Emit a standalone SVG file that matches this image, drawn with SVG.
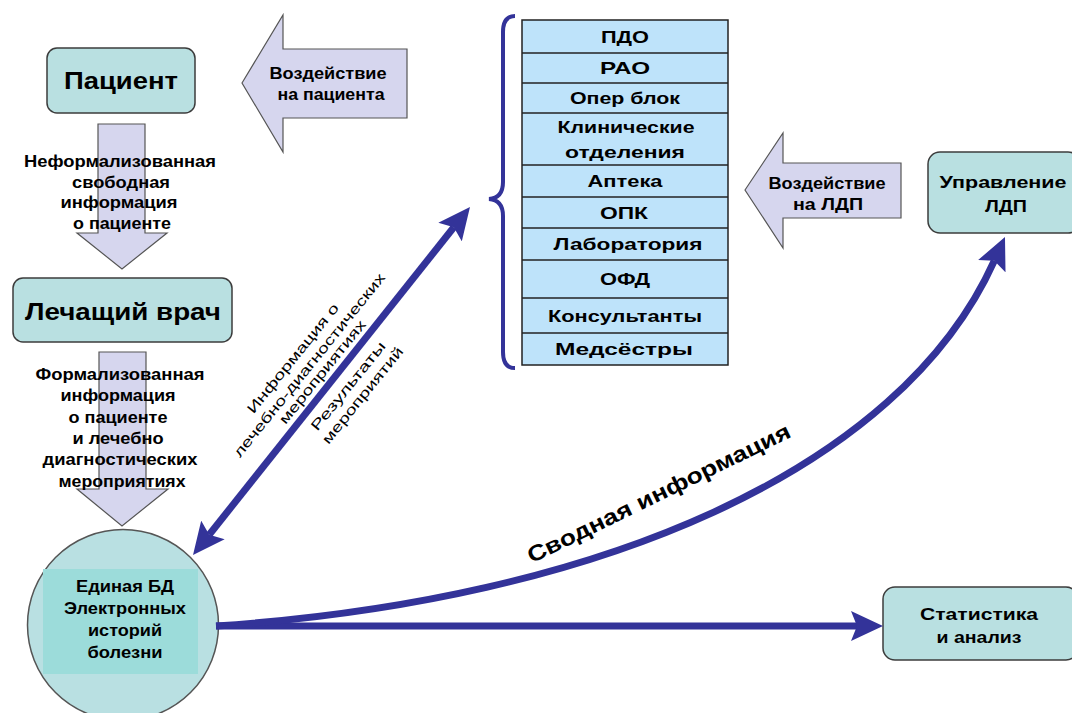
<svg xmlns="http://www.w3.org/2000/svg" width="1072" height="713" viewBox="0 0 1072 713">
<style>
.t{font-family:"Liberation Sans",Arial,sans-serif;font-weight:bold;fill:#000;text-anchor:middle}
.n{font-family:"Liberation Sans",Arial,sans-serif;font-weight:normal;fill:#000;text-anchor:middle}
.box{fill:#b9e0e1;stroke:#3c3c3c;stroke-width:1.5}
.arr{fill:#d6d6ee;stroke:#555;stroke-width:1.2}
.tbl{fill:#bee3fa;stroke:#222;stroke-width:1.5}
.con{fill:none;stroke:#333399;stroke-width:7}
</style>
<defs>
<marker id="ah" viewBox="0 0 32 30" refX="6" refY="15" markerWidth="32" markerHeight="30" markerUnits="userSpaceOnUse" orient="auto-start-reverse">
<path d="M0,0 L32,15 L0,30 L6,15 z" fill="#333399"/>
</marker>
</defs>
<rect width="1072" height="713" fill="#fff"/>

<g id="arrow-patient">
<polygon class="arr" points="242,83 283,15 283,49 407,49 407,118 283,118 283,152"/>
<text class="t" font-size="16" x="328" y="79" textLength="117" lengthAdjust="spacingAndGlyphs">Воздействие</text>
<text class="t" font-size="16" x="331" y="100" textLength="107" lengthAdjust="spacingAndGlyphs">на пациента</text>
</g>

<g id="arrow-ldp">
<polygon class="arr" points="745,190 783,133 783,163 901,163 901,218 783,218 783,248"/>
<text class="t" font-size="16" x="827" y="189" textLength="117" lengthAdjust="spacingAndGlyphs">Воздействие</text>
<text class="t" font-size="16" x="828" y="210" textLength="70" lengthAdjust="spacingAndGlyphs">на ЛДП</text>
</g>

<g id="arrow-down1">
<polygon class="arr" points="98,124 145,124 145,233 167,233 122,269 77,233 98,233"/>
<text class="t" font-size="16" x="120" y="167" textLength="192" lengthAdjust="spacingAndGlyphs">Неформализованная</text>
<text class="t" font-size="16" x="121" y="188" textLength="98" lengthAdjust="spacingAndGlyphs">свободная</text>
<text class="t" font-size="16" x="119" y="208" textLength="117" lengthAdjust="spacingAndGlyphs">информация</text>
<text class="t" font-size="16" x="122" y="229" textLength="98" lengthAdjust="spacingAndGlyphs">о пациенте</text>
</g>

<g id="arrow-down2">
<polygon class="arr" points="99,352 146,352 146,489 168,489 122,526 77,489 99,489"/>
<text class="t" font-size="16" x="120" y="380" textLength="169" lengthAdjust="spacingAndGlyphs">Формализованная</text>
<text class="t" font-size="16" x="118" y="401" textLength="115" lengthAdjust="spacingAndGlyphs">информация</text>
<text class="t" font-size="16" x="118" y="423" textLength="99" lengthAdjust="spacingAndGlyphs">о пациенте</text>
<text class="t" font-size="16" x="118" y="444" textLength="91" lengthAdjust="spacingAndGlyphs">и лечебно</text>
<text class="t" font-size="16" x="120" y="465" textLength="155" lengthAdjust="spacingAndGlyphs">диагностических</text>
<text class="t" font-size="16" x="122" y="487" textLength="127" lengthAdjust="spacingAndGlyphs">мероприятиях</text>
</g>

<g id="patient">
<rect class="box" x="47" y="48" width="148" height="65" rx="10"/>
<text class="t" font-size="23" x="121" y="89" textLength="114" lengthAdjust="spacingAndGlyphs">Пациент</text>
</g>

<g id="doctor">
<rect class="box" x="13" y="278" width="219" height="64" rx="10"/>
<text class="t" font-size="23" x="123" y="320" textLength="196" lengthAdjust="spacingAndGlyphs">Лечащий врач</text>
</g>

<g id="departments">
<rect class="tbl" x="522" y="20" width="206" height="345"/>
<g stroke="#222" stroke-width="1.5">
<line x1="522" y1="53" x2="728" y2="53"/>
<line x1="522" y1="83" x2="728" y2="83"/>
<line x1="522" y1="113" x2="728" y2="113"/>
<line x1="522" y1="165" x2="728" y2="165"/>
<line x1="522" y1="197" x2="728" y2="197"/>
<line x1="522" y1="228" x2="728" y2="228"/>
<line x1="522" y1="260" x2="728" y2="260"/>
<line x1="522" y1="298" x2="728" y2="298"/>
<line x1="522" y1="333" x2="728" y2="333"/>
</g>
<text class="t" font-size="17" x="625" y="43" textLength="48" lengthAdjust="spacingAndGlyphs">ПДО</text>
<text class="t" font-size="17" x="625" y="74" textLength="50" lengthAdjust="spacingAndGlyphs">РАО</text>
<text class="t" font-size="17" x="625" y="104" textLength="110" lengthAdjust="spacingAndGlyphs">Опер блок</text>
<text class="t" font-size="17" x="626" y="133" textLength="137" lengthAdjust="spacingAndGlyphs">Клинические</text>
<text class="t" font-size="17" x="625" y="158" textLength="120" lengthAdjust="spacingAndGlyphs">отделения</text>
<text class="t" font-size="17" x="625" y="187" textLength="75" lengthAdjust="spacingAndGlyphs">Аптека</text>
<text class="t" font-size="17" x="624" y="219" textLength="48" lengthAdjust="spacingAndGlyphs">ОПК</text>
<text class="t" font-size="17" x="628" y="250" textLength="149" lengthAdjust="spacingAndGlyphs">Лаборатория</text>
<text class="t" font-size="17" x="625" y="285" textLength="50" lengthAdjust="spacingAndGlyphs">ОФД</text>
<text class="t" font-size="17" x="625" y="322" textLength="154" lengthAdjust="spacingAndGlyphs">Консультанты</text>
<text class="t" font-size="17" x="624" y="355" textLength="138" lengthAdjust="spacingAndGlyphs">Медсёстры</text>
</g>

<g id="brace">
<path d="M515,16 Q503,16 503,32 L503,182 Q503,198 489,199 Q503,200 503,216 L503,352 Q503,368 515,368" fill="none" stroke="#333399" stroke-width="4"/>
</g>

<g id="management">
<rect class="box" x="928" y="152" width="152" height="81" rx="12"/>
<text class="t" font-size="17" x="1003" y="188" textLength="127" lengthAdjust="spacingAndGlyphs">Управление</text>
<text class="t" font-size="17" x="1006" y="212" textLength="42" lengthAdjust="spacingAndGlyphs">ЛДП</text>
</g>

<g id="statistics">
<rect class="box" x="883" y="587" width="195" height="73" rx="12"/>
<text class="t" font-size="17" x="979" y="620" textLength="118" lengthAdjust="spacingAndGlyphs">Статистика</text>
<text class="t" font-size="17" x="979" y="643" textLength="85" lengthAdjust="spacingAndGlyphs">и анализ</text>
</g>

<g id="database">
<circle cx="123" cy="625" r="95.5" fill="#b9e0e2" stroke="#555" stroke-width="1.5"/>
<rect x="43" y="569" width="155" height="105" fill="#9cdcda"/>
<text class="t" font-size="16" x="125" y="592" textLength="98" lengthAdjust="spacingAndGlyphs">Единая БД</text>
<text class="t" font-size="16" x="125" y="614" textLength="122" lengthAdjust="spacingAndGlyphs">Электронных</text>
<text class="t" font-size="16" x="125" y="636" textLength="74" lengthAdjust="spacingAndGlyphs">историй</text>
<text class="t" font-size="16" x="125" y="658" textLength="75" lengthAdjust="spacingAndGlyphs">болезни</text>
</g>

<g id="connectors">
<line class="con" x1="209.2" y1="534.7" x2="453.8" y2="227.3" marker-start="url(#ah)" marker-end="url(#ah)"/>
<line class="con" x1="216" y1="626" x2="857" y2="626" marker-end="url(#ah)"/>
<path class="con" d="M216,626 C600,600 900,470 994.3,260.7" marker-end="url(#ah)"/>
</g>

<g id="labels">
<g transform="translate(309,365) rotate(-51)">
<text class="n" font-size="14" x="-5" y="-12" textLength="137" lengthAdjust="spacingAndGlyphs">Информация о</text>
<text class="n" font-size="14" x="0" y="5" textLength="232" lengthAdjust="spacingAndGlyphs">лечебно-диагностических</text>
<text class="n" font-size="14" x="3" y="19.5" textLength="129" lengthAdjust="spacingAndGlyphs">мероприятиях</text>
</g>
<g transform="translate(348,386) rotate(-51)">
<text class="n" font-size="14" x="0" y="5" textLength="110" lengthAdjust="spacingAndGlyphs">Результаты</text>
<text class="n" font-size="14" x="2" y="22" textLength="120" lengthAdjust="spacingAndGlyphs">мероприятий</text>
</g>
<text class="t" font-size="22" transform="translate(662,500) rotate(-26)" x="0" y="0" textLength="290" lengthAdjust="spacingAndGlyphs">Сводная информация</text>
</g>
</svg>
